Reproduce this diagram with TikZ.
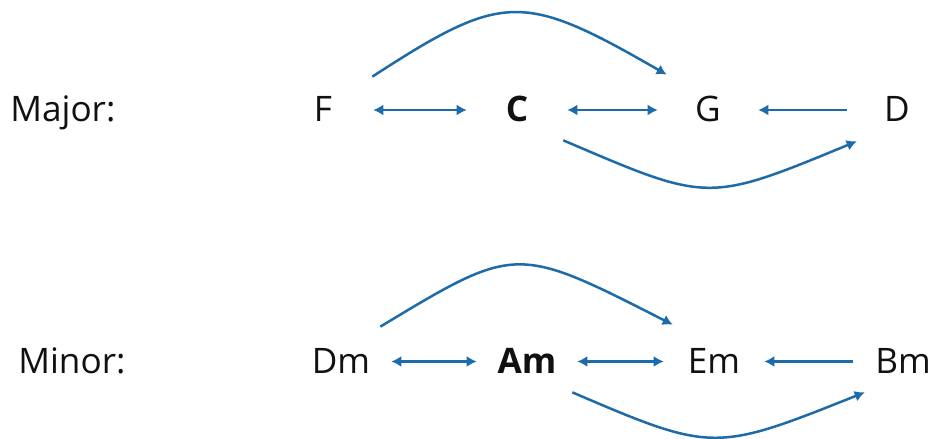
\documentclass[tikz,border=0pt]{standalone}
\usepackage{fontspec}
\setmainfont{Open Sans}
\usetikzlibrary{arrows.meta}
\definecolor{ink}{HTML}{111111}
\definecolor{accent}{HTML}{1D6BA8}

\begin{document}
\begin{tikzpicture}[
    x=0.02cm, y=0.02cm,
    >={Latex[length=0.2cm, width=0.22cm]},
    label/.style={font=\fontsize{20}{24}\selectfont, text=ink, inner sep=0pt,
                  text height=0.48cm, text depth=0pt},
    row/.style={label, anchor=west},
    chord/.style={label, minimum width=2cm},
    tonic/.style={chord, font=\fontsize{20}{24}\selectfont\bfseries},
    link/.style={draw=accent, line width=0.05cm},
  ]

  % feste Bildfläche
  \fill[white] (0,0) rectangle (944,439);
  \useasboundingbox (0,0) rectangle (944,439);

  % Dur-Reihe
  \node[row]   (major) at (10, 329) {Major:};
  \node[chord] (F) at (323, 329) {F};
  \node[tonic] (C) at (517, 329) {C};
  \node[chord] (G) at (708, 329) {G};
  \node[chord] (D) at (897, 329) {D};

  % Moll-Reihe
  \node[row]   (minor) at (18, 77.5) {Minor:};
  \node[chord] (Dm) at (341, 77.5) {Dm};
  \node[tonic] (Am) at (527, 77.5) {Am};
  \node[chord] (Em) at (714, 77.5) {Em};
  \node[chord] (Bm) at (903, 77.5) {Bm};

  % gerade Verbindungen
  \foreach \a/\b in {F/C, C/G, Dm/Am, Am/Em} \draw[link, <->] (\a) -- (\b);
  \foreach \a/\b in {D/G, Bm/Em} \draw[link, ->] (\a) -- (\b);

  % Bögen oben und unten
  \draw[link, ->] ([shift={(-1,21)}]F.north east)
    .. controls +(131,85) and +(-144,83) .. ([shift={(9,23)}]G.north west);
  \draw[link, ->] ([shift={(-4,-18)}]C.south east)
    .. controls +(145,-62) and +(-150,-62) .. ([shift={(10,-19)}]D.south west);
  \draw[link, ->] ([shift={(-11,22.5)}]Dm.north east)
    .. controls +(136,82) and +(-157,80) .. ([shift={(9,24.5)}]Em.north west);
  \draw[link, ->] ([shift={(-5,-18.5)}]Am.south east)
    .. controls +(140,-60) and +(-150,-60) .. ([shift={(12,-18.5)}]Bm.south west);

\end{tikzpicture}
\end{document}
